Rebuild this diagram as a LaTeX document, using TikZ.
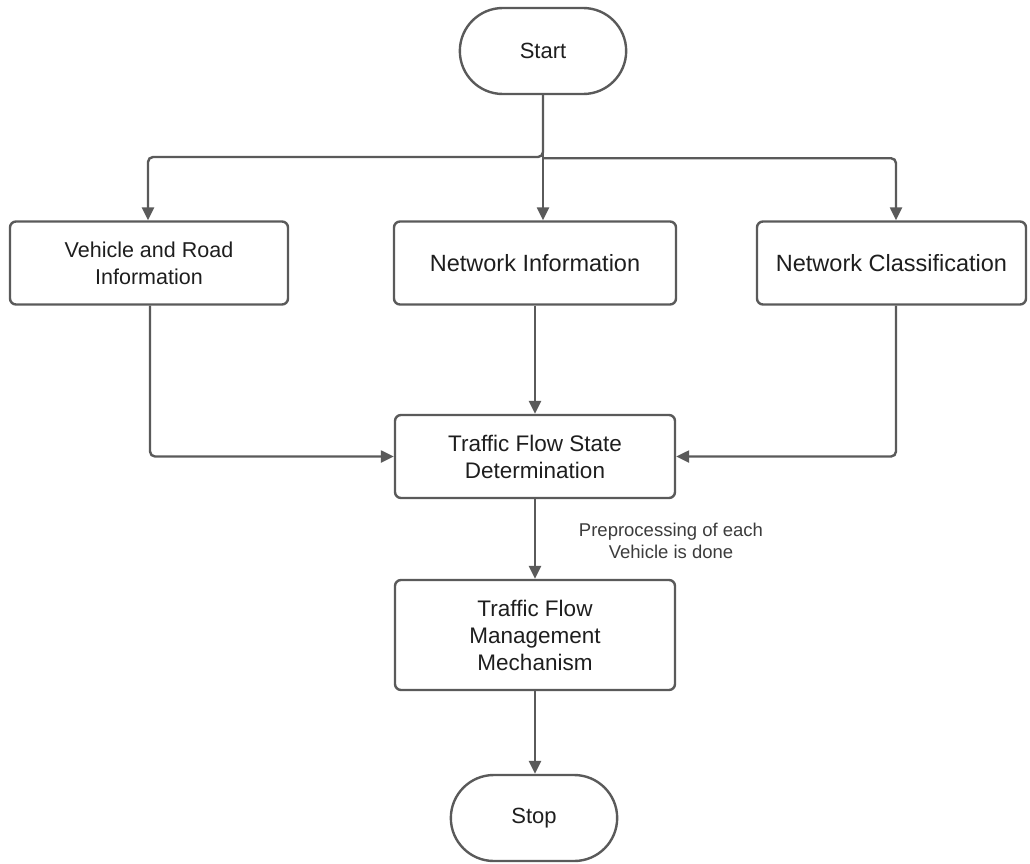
\documentclass[tikz,border=0pt]{standalone}
\usepackage{fontspec}
\setmainfont{Liberation Sans}
\usetikzlibrary{arrows.meta,shapes.misc}
\definecolor{linegray}{HTML}{5A5A5A}
\definecolor{textdark}{HTML}{1E1E1E}
\definecolor{labelgray}{HTML}{3C3C3C}
\tikzset{
  flowline/.style={draw=linegray,line width=2.4pt},
  arr/.style={flowline,-{Triangle[length=13pt,width=12pt]}},
  procbox/.style={draw=linegray,line width=2.4pt,rounded corners=6pt,
    minimum height=83pt,align=center,text=textdark,
    font=\fontsize{22.5}{27}\selectfont},
  terminal/.style={draw=linegray,line width=2.4pt,rounded rectangle,
    minimum width=173pt,minimum height=86pt,text=textdark,
    font=\fontsize{22}{27}\selectfont},
  edgelabel/.style={text=labelgray,align=center,font=\fontsize{18.5}{22}\selectfont}
}
\begin{document}
\begin{tikzpicture}[x=1pt,y=-1pt]
  \useasboundingbox (0,0) rectangle (1030,863);
  % terminals
  \node[terminal] (start) at (543,51) {Start};
  \node[terminal] (stop) at (534,818) {Stop};
  % first row of inputs
  \node[procbox,minimum width=278pt,font=\fontsize{21.5}{27}\selectfont] (vehicle) at (149,263) {Vehicle and Road\\Information};
  \node[procbox,minimum width=282pt,font=\fontsize{23.5}{27}\selectfont] (netinfo) at (535,263) {Network Information};
  \node[procbox,minimum width=269pt,font=\fontsize{23.5}{27}\selectfont] (netclass) at (891.5,263) {Network Classification};
  % processing chain
  \node[procbox,minimum width=280pt] (state) at (535,456.5) {Traffic Flow State\\Determination};
  \node[procbox,minimum width=280pt,minimum height=110pt] (manage) at (535,635) {Traffic Flow\\Management\\Mechanism};
  % branch coordinates
  \coordinate (split) at (543,157);
  % fan-out from Start
  \draw[arr,rounded corners=5pt] (start.south) -- (split) -| (vehicle.north -| 148,0);
  \draw[arr,rounded corners=5pt] (start.south) ++(0,63) -| (netclass.north -| 896,0);
  \draw[arr] (start.south) -- (start.south |- netinfo.north);
  % merge into state determination
  \draw[arr,rounded corners=5pt] (vehicle.south -| 150,0) |- (state.west);
  \draw[arr,rounded corners=5pt] (netclass.south -| 896,0) |- (state.east);
  \draw[arr] (netinfo.south) -- (state.north);
  % main chain
  \draw[arr] (state.south) -- (manage.north);
  \node[edgelabel] (prep) at (671,541) {Preprocessing of each\\Vehicle is done};
  \draw[arr] (manage.south) -- (manage.south |- stop.north);
\end{tikzpicture}
\end{document}
